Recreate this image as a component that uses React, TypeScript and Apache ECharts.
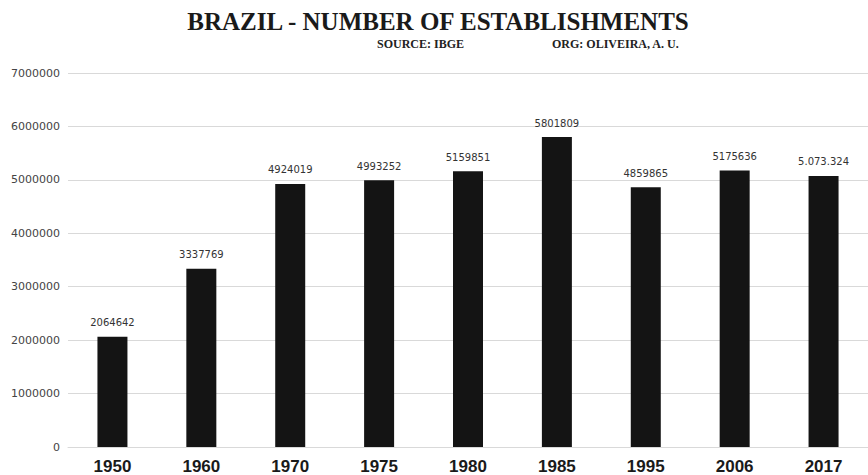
import React, { useEffect, useRef } from "react";
import * as echarts from "echarts";

const years = ["1950", "1960", "1970", "1975", "1980", "1985", "1995", "2006", "2017"];
const establishments = [2064642, 3337769, 4924019, 4993252, 5159851, 5801809, 4859865, 5175636, 5073324];
const valueLabels = ["2064642", "3337769", "4924019", "4993252", "5159851", "5801809", "4859865", "5175636", "5.073.324"];
const yTicks = { min: 0, max: 7000000, interval: 1000000 };

export default function App() {
  const ref = useRef<HTMLDivElement>(null);
  useEffect(() => {
    if (!ref.current) return;
    const chart = echarts.init(ref.current, undefined, { renderer: "svg" });
    chart.setOption({
      animation: false,
      backgroundColor: "#ffffff",
      graphic: [
        {
          type: "text",
          x: 438,
          y: 9,
          style: {
            text: "BRAZIL - NUMBER OF ESTABLISHMENTS",
            font: "bold 25px 'Liberation Serif', 'Times New Roman', serif",
            fill: "#1a1a1a",
            textAlign: "center",
          },
        },
        {
          type: "text",
          x: 377,
          y: 38,
          style: {
            text: "SOURCE: IBGE",
            font: "bold 12px 'Liberation Serif', serif",
            fill: "#222",
          },
        },
        {
          type: "text",
          x: 552,
          y: 38,
          style: {
            text: "ORG: OLIVEIRA, A. U.",
            font: "bold 12px 'Liberation Serif', serif",
            fill: "#222",
          },
        },
      ],
      grid: { left: 68, top: 73, width: 805, height: 375, containLabel: false },
      xAxis: {
        type: "category",
        data: years,
        axisLine: { show: true, lineStyle: { color: "#d9d9d9" } },
        axisTick: { show: false },
        axisLabel: {
          margin: 11,
          fontSize: 17,
          fontWeight: "bold",
          fontFamily: "'Liberation Sans', Arial, sans-serif",
          color: "#1a1a1a",
        },
      },
      yAxis: {
        type: "value",
        min: yTicks.min,
        max: yTicks.max,
        interval: yTicks.interval,
        axisLine: { show: false },
        axisTick: { show: false },
        splitLine: { lineStyle: { color: "#d9d9d9", width: 1 } },
        axisLabel: {
          margin: 8,
          fontSize: 11,
          fontFamily: "'DejaVu Sans', sans-serif",
          color: "#444",
          formatter: (v: number) => String(v),
        },
      },
      series: [
        {
          type: "bar",
          data: establishments,
          barWidth: 30,
          itemStyle: { color: "#141414" },
          label: {
            show: true,
            position: "top",
            distance: 9,
            fontSize: 10,
            fontFamily: "'DejaVu Sans', sans-serif",
            color: "#333",
            formatter: (p: any) => valueLabels[p.dataIndex],
          },
        },
      ],
    });
    return () => chart.dispose();
  }, []);
  return (
    <div
      ref={ref}
      style={{ position: "fixed", left: 0, top: 0, width: 868, height: 475 }}
    />
  );
}
